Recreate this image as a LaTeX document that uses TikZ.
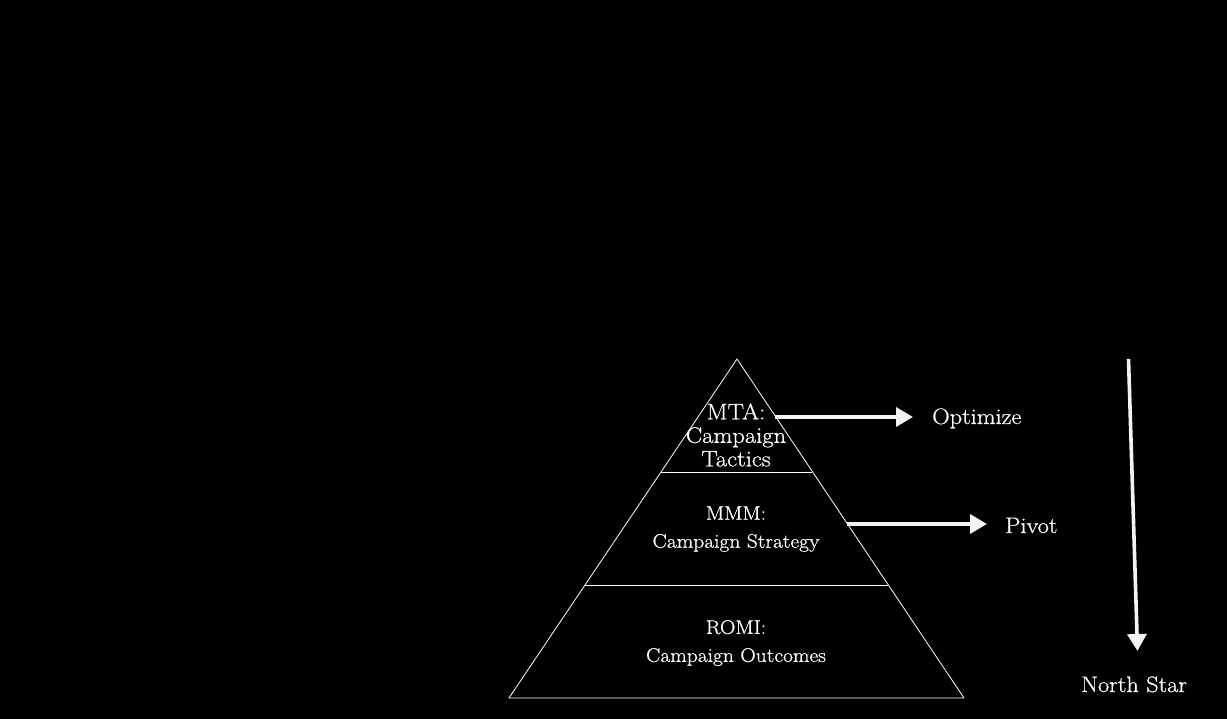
\documentclass[tikz,border=0pt]{standalone}
\usepackage{fontspec}
\setmainfont{Latin Modern Roman}[FakeStretch=1.09,FakeBold=0.7]
\usetikzlibrary{arrows.meta}
\begin{document}
\begin{tikzpicture}[x=1pt,y=-1pt,
  tier/.style={text=white,align=center,inner sep=0pt},
  lbl/.style={text=white,inner sep=0pt,anchor=base west,font=\fontsize{22.3}{26}\selectfont},
  bigarrow/.style={draw={rgb,255:red,242;green,243;blue,245},line width=3.6pt,
    -{Triangle[length=17pt,width=19pt]}}]
\fill[black] (0,0) rectangle (1227,719);
\useasboundingbox (0,0) rectangle (1227,719);
% pyramid
\draw[white,line width=0.8pt] (737,359) -- (964,698) -- (509,698) -- cycle;
\draw[white,line width=0.8pt] (661,472) -- (812,472);
\draw[white,line width=0.8pt] (585,585) -- (888,585);
% tiers
\node[tier,font=\fontsize{22.5}{23.5}\selectfont] (mta) at (736,435) {MTA:\\Campaign\\Tactics};
\node[tier,font=\fontsize{19.7}{28}\selectfont] (mmm) at (736,529) {MMM:\\Campaign Strategy};
\node[tier,font=\fontsize{19.7}{28}\selectfont] (romi) at (736,643) {ROMI:\\Campaign Outcomes};
% labels
\node[lbl] (opt) at (932,424) {Optimize};
\node[lbl] (piv) at (1005,533) {Pivot};
\node[lbl] (star) at (1081,692) {North Star};
% arrows
\coordinate (optA) at (775,417);
\coordinate (optB) at (913,417);
\coordinate (pivA) at (847,524);
\coordinate (pivB) at (987,524);
\coordinate (starA) at (1128.5,359);
\coordinate (starB) at (1137.5,651);
\draw[bigarrow] (optA) -- (optB);
\draw[bigarrow] (pivA) -- (pivB);
\draw[bigarrow] (starA) -- (starB);
\end{tikzpicture}
\end{document}
